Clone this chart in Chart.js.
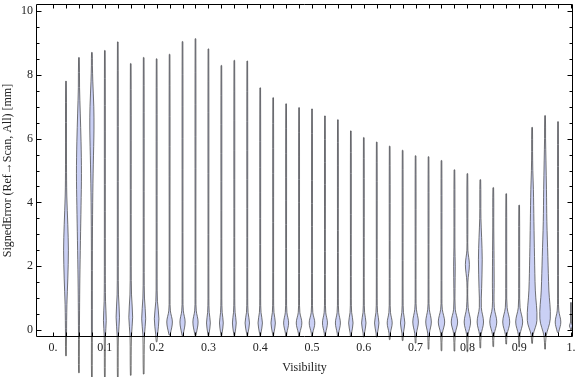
<!DOCTYPE html>
<html><head><meta charset="utf-8">
<script src="https://cdn.jsdelivr.net/npm/chart.js@4/dist/chart.umd.min.js"></script>
<style>html,body{margin:0;padding:0;background:#fff;}canvas{display:block;}</style>
</head><body>
<canvas id="c" width="576" height="377"></canvas>
<script>
// ---- data ----
const visibility = [0.025,0.05,0.075,0.1,0.125,0.15,0.175,0.2,0.225,0.25,0.275,0.3,0.325,0.35,0.375,0.4,0.425,0.45,0.475,0.5,0.525,0.55,0.575,0.6,0.625,0.65,0.675,0.7,0.725,0.75,0.775,0.8,0.825,0.85,0.875,0.9,0.925,0.95,0.975,1.0];
const maxError = [7.80,8.54,8.70,8.76,9.03,8.35,8.54,8.50,8.64,9.04,9.13,8.81,8.29,8.45,8.43,7.59,7.28,7.09,6.97,6.93,6.71,6.59,6.24,6.03,5.89,5.76,5.63,5.46,5.43,5.31,5.02,4.90,4.71,4.46,4.27,3.91,6.35,6.72,6.53,0.86];
const minError = [-0.81,-1.34,-1.50,-1.50,-1.50,-1.42,-1.38,-0.37,-0.16,-0.18,-0.18,-0.18,-0.18,-0.18,-0.18,-0.18,-0.18,-0.20,-0.20,-0.20,-0.20,-0.20,-0.20,-0.22,-0.22,-0.30,-0.33,-0.41,-0.60,-0.65,-0.66,-0.68,-0.56,-0.52,-0.44,-0.53,-0.42,-0.60,-0.08,0.00];
// density profile of each violin: [error value, relative half-width]
const densityProfiles = [
  [[-0.2,0.5],[0.8,0.9],[1.6,1.8],[2.5,2.4],[3.3,1.8],[4.2,0.8],[5.2,0.5]],
  [[-0.3,0.45],[0.6,0.6],[1.6,0.9],[2.8,1.5],[3.9,2.1],[4.9,2.5],[5.9,2.1],[6.8,1.3],[7.6,0.6]],
  [[0.0,0.45],[2.5,0.5],[4.0,0.8],[5.2,1.4],[6.3,2.1],[7.0,1.9],[7.8,0.9],[8.3,0.5]],
  [[-0.2,0.6],[0.3,1.4],[0.9,0.7],[2.0,0.5]],
  [[-0.2,0.6],[0.4,1.7],[1.1,0.7],[2.0,0.5]],
  [[-0.2,0.7],[0.4,1.9],[1.1,0.8],[2.0,0.5]],
  [[-0.15,0.8],[0.35,2.0],[1.0,0.8],[1.8,0.5]],
  [[-0.15,0.9],[0.35,2.3],[0.9,0.8],[1.6,0.5]],
  [[-0.12,0.8],[0.25,2.8],[0.6,0.8],[1.0,0.45]],
  [[-0.12,0.8],[0.25,2.6],[0.6,0.8],[1.0,0.45]],
  [[-0.12,0.8],[0.25,2.6],[0.6,0.8],[1.0,0.45]],
  [[-0.1,0.7],[0.22,1.9],[0.55,0.8],[1.0,0.45]],
  [[-0.1,0.7],[0.22,1.9],[0.55,0.8],[1.0,0.45]],
  [[-0.1,0.7],[0.22,1.9],[0.55,0.8],[1.0,0.45]],
  [[-0.1,0.7],[0.22,2.2],[0.55,0.8],[1.0,0.45]],
  [[-0.1,0.7],[0.22,2.2],[0.55,0.8],[1.0,0.45]],
  [[-0.1,0.7],[0.22,2.2],[0.55,0.8],[1.0,0.45]],
  [[-0.1,0.7],[0.22,2.5],[0.55,0.8],[1.0,0.45]],
  [[-0.1,0.7],[0.22,2.8],[0.55,0.8],[1.0,0.45]],
  [[-0.1,0.7],[0.22,2.8],[0.55,0.8],[1.0,0.45]],
  [[-0.1,0.7],[0.22,2.5],[0.55,0.8],[1.0,0.45]],
  [[-0.1,0.7],[0.22,2.5],[0.55,0.8],[1.0,0.45]],
  [[-0.1,0.7],[0.22,2.2],[0.55,0.8],[1.0,0.45]],
  [[-0.1,0.7],[0.22,2.2],[0.55,0.8],[1.0,0.45]],
  [[-0.1,0.7],[0.22,2.2],[0.55,0.8],[1.0,0.45]],
  [[-0.1,0.7],[0.22,2.5],[0.55,0.8],[1.0,0.45]],
  [[-0.1,0.7],[0.22,2.2],[0.55,0.8],[1.0,0.45]],
  [[-0.12,0.8],[0.25,2.8],[0.65,0.8],[1.0,0.45]],
  [[-0.12,0.8],[0.25,2.8],[0.65,0.8],[1.0,0.45]],
  [[-0.12,0.8],[0.25,3.2],[0.65,0.8],[1.0,0.45]],
  [[-0.12,0.8],[0.25,3.2],[0.65,0.8],[1.3,0.6],[2.0,0.8],[2.6,0.5]],
  [[-0.15,0.8],[0.25,3.2],[0.7,0.8],[1.5,0.5],[2.05,2.0],[2.5,0.5],[3.0,0.45]],
  [[-0.15,0.8],[0.25,3.2],[0.7,1.0],[1.3,1.3],[2.2,1.9],[2.9,1.3],[3.5,0.6]],
  [[-0.15,0.8],[0.25,3.5],[0.7,1.0],[1.5,0.9],[2.5,0.7],[3.2,0.5]],
  [[-0.15,0.8],[0.25,3.5],[0.7,0.9],[1.3,0.5]],
  [[-0.15,0.8],[0.25,3.5],[0.7,0.9],[1.3,0.5]],
  [[-0.15,1.0],[0.3,4.8],[1.25,3.2],[2.3,2.4],[3.4,1.8],[4.4,1.3],[5.0,0.7],[5.6,0.45]],
  [[-0.2,1.0],[0.35,5.2],[1.25,3.8],[2.3,2.8],[3.4,1.8],[4.4,1.4],[5.3,0.9],[6.0,0.5]],
  [[-0.05,0.8],[0.25,2.8],[0.6,0.8],[1.0,0.45]],
  [[0.03,0.4],[0.13,1.5],[0.25,0.4]]
];
const xTickValues = [0,0.1,0.2,0.3,0.4,0.5,0.6,0.7,0.8,0.9,1.0];
const xTickLabels = ['0.','0.1','0.2','0.3','0.4','0.5','0.6','0.7','0.8','0.9','1.'];
const yTickValues = [0,2,4,6,8,10];
const yTickLabels = ['0','2','4','6','8','10'];

// ---- build violin outlines ----
const X_MIN = -0.031, X_MAX = 1.002;
const WIDTH_UNIT = (X_MAX - X_MIN) / 535; // one relative width unit ~ one pixel
const TIP = 0.35;
function outline(i) {
  const cx = visibility[i];
  const pts = [[minError[i], TIP]].concat(densityProfiles[i], [[maxError[i], TIP]]);
  const right = pts.map(p => ({x: cx + p[1] * WIDTH_UNIT, y: p[0]}));
  const left = pts.slice().reverse().map(p => ({x: cx - p[1] * WIDTH_UNIT, y: p[0]}));
  const all = right.concat(left);
  all.push(right[0]);
  return all;
}
const datasets = visibility.map((v, i) => ({
  data: outline(i),
  fill: 'shape',
  backgroundColor: 'rgb(202,208,245)',
  borderColor: 'rgba(70,70,70,0.75)',
  borderWidth: 1,
  pointRadius: 0,
  tension: 0.35,
  clip: false
}));

const font = {family: "'Liberation Serif', 'Times New Roman', serif", size: 12};

const frameTicks = {
  id: 'frameTicks',
  afterDraw(chart) {
    const {ctx, chartArea: {left, right, top, bottom}, scales: {x, y}} = chart;
    const L = left - 0.5, R = right + 0.5, T = top + 0.5, B = bottom - 0.5;
    ctx.save();
    ctx.strokeStyle = '#000';
    ctx.lineWidth = 1;
    ctx.beginPath();
    ctx.moveTo(L, T); ctx.lineTo(R, T); ctx.lineTo(R, B); ctx.lineTo(L, B); ctx.closePath();
    [0].concat(visibility).forEach(v => {
      const px = Math.round(x.getPixelForValue(v)) + 0.5;
      ctx.moveTo(px, B); ctx.lineTo(px, B - 4);
      ctx.moveTo(px, T); ctx.lineTo(px, T + 4);
    });
    for (let j = 0; j <= 20; j++) {
      const v = j * 0.5;
      const len = (j % 4 === 0) ? 5 : 3;
      const py = Math.round(y.getPixelForValue(v)) + 0.5;
      ctx.moveTo(L, py); ctx.lineTo(L + len, py);
      ctx.moveTo(R, py); ctx.lineTo(R - len, py);
    }
    ctx.stroke();
    ctx.restore();
  }
};

new Chart(document.getElementById('c'), {
  type: 'line',
  data: {datasets},
  options: {
    responsive: false,
    devicePixelRatio: 1,
    animation: false,
    events: [],
    layout: {padding: {top: 4, right: 4, left: 0, bottom: 0}},
    plugins: {legend: {display: false}, tooltip: {enabled: false}},
    scales: {
      x: {
        type: 'linear', min: X_MIN, max: X_MAX,
        afterBuildTicks: s => { s.ticks = xTickValues.map(v => ({value: v})); },
        ticks: {autoSkip: false, maxRotation: 0, padding: 4, color: '#222', font,
                callback: (v, i) => xTickLabels[i]},
        grid: {display: false, drawTicks: false},
        border: {display: false},
        title: {display: true, text: 'Visibility', color: '#222', font, padding: {top: 0, bottom: 2}},
        afterFit: s => { s.height = 40; s.paddingLeft = 0; s.paddingRight = 0; }
      },
      y: {
        type: 'linear', min: -0.22, max: 10.22,
        afterBuildTicks: s => { s.ticks = yTickValues.map(v => ({value: v})); },
        ticks: {padding: 4, color: '#222', font, callback: (v, i) => yTickLabels[i]},
        grid: {display: false, drawTicks: false},
        border: {display: false},
        title: {display: true, text: 'SignedError (Ref\u2192Scan, All) [mm]', color: '#222', font, padding: {top: 1, bottom: 0}},
        afterFit: s => { s.width = 37; s.paddingTop = 0; s.paddingBottom = 0; }
      }
    }
  },
  plugins: [frameTicks]
});
</script>
</body></html>
